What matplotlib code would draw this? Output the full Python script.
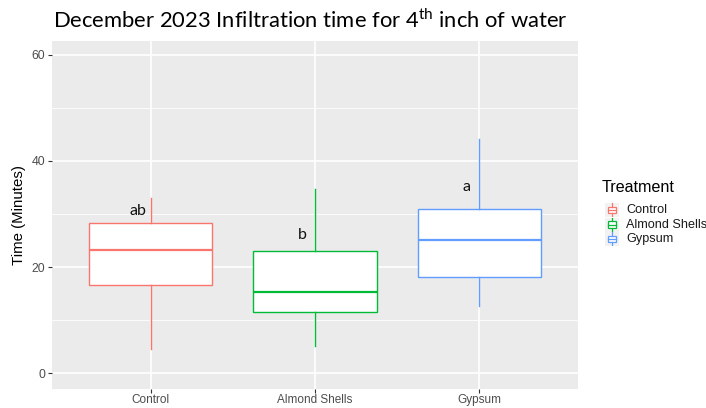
import matplotlib.pyplot as plt
from matplotlib.patches import Rectangle

# -----------------------
# Data
# -----------------------
treatments = ['Control', 'Almond Shells', 'Gypsum']
colors = ['#F8766D', '#00BA38', '#619CFF']
whisker_low = [4.6, 5.1, 12.7]
q1 = [16.7, 11.5, 18.2]
median = [23.2, 15.4, 25.1]
q3 = [28.4, 23.0, 30.9]
whisker_high = [33.1, 34.8, 44.2]
letters = ['ab', 'b', 'a']
letter_y = [30.6, 26.0, 35.1]

plt.rcParams['mathtext.fontset'] = 'custom'
plt.rcParams['mathtext.rm'] = 'Lato'

fig = plt.figure(figsize=(7.06, 4.08), dpi=100)
ax = fig.add_axes([52 / 706, 19 / 408, 526 / 706, 348 / 408])
ax.set_facecolor('#EBEBEB')

# -----------------------
# Grid like ggplot
# -----------------------
for y in [10, 30, 50]:
    ax.axhline(y, color='white', lw=0.6, zorder=0)
for y in [0, 20, 40, 60]:
    ax.axhline(y, color='white', lw=1.2, zorder=0)
for i in range(len(treatments)):
    ax.axvline(i + 1, color='white', lw=1.2, zorder=0)

# -----------------------
# Boxplots
# -----------------------
stats = []
for i, t in enumerate(treatments):
    stats.append({'label': t, 'whislo': whisker_low[i], 'q1': q1[i], 'med': median[i],
                  'q3': q3[i], 'whishi': whisker_high[i], 'fliers': []})

for i, s in enumerate(stats):
    c = colors[i]
    ax.bxp([s], positions=[i + 1], widths=0.75, showfliers=False, showcaps=False,
           patch_artist=True,
           boxprops=dict(facecolor='white', edgecolor=c, lw=1.0),
           medianprops=dict(color=c, lw=1.6),
           whiskerprops=dict(color=c, lw=1.0), zorder=2)

for i, lab in enumerate(letters):
    ax.text(i + 1 - 0.08, letter_y[i], lab, ha='center', va='center',
            fontsize=11.5, family='Lato', color='#111111')

ax.set_xlim(0.4, 3.6)
ax.set_ylim(-2.95, 62.6)
ax.set_yticks([0, 20, 40, 60])
ax.set_xticks([1, 2, 3])
ax.set_xticklabels(treatments)
ax.tick_params(colors='#333333', labelcolor='#4D4D4D', length=3, width=0.8,
               labelsize=8.8, labelfontfamily='Liberation Sans')
ax.tick_params(axis='x', pad=0.8, labelsize=8.5)
ax.tick_params(axis='y', pad=2)
for sp in ax.spines.values():
    sp.set_visible(False)
ax.set_ylabel('Time (Minutes)', fontsize=10.8, family='Liberation Sans', labelpad=4)

fig.text(310 / 706, 1 - 28 / 408, 'December 2023 Infiltration time for 4$^{\\mathrm{th}}$ inch of water',
         ha='center', va='baseline', fontsize=15.8, family='Lato')

# -----------------------
# Legend drawn by hand
# -----------------------
fig.text(602 / 706, 1 - 188 / 408, 'Treatment', fontsize=11.6, family='Liberation Sans',
         va='center', ha='left')
leg_y = [210, 224.5, 239]
for i, t in enumerate(treatments):
    yc = leg_y[i]
    kax = fig.add_axes([605 / 706, 1 - (yc + 7) / 408, 14 / 706, 14 / 408])
    kax.set_xlim(0, 1)
    kax.set_ylim(0, 1)
    kax.axis('off')
    kax.add_patch(Rectangle((0, 0), 1, 1, facecolor='#F2F2F2', edgecolor='none'))
    kax.add_patch(Rectangle((0.18, 0.28), 0.64, 0.44, facecolor='white', edgecolor=colors[i], lw=0.9))
    kax.plot([0.18, 0.82], [0.5, 0.5], color=colors[i], lw=0.9)
    kax.plot([0.5, 0.5], [0.02, 0.28], color=colors[i], lw=0.9)
    kax.plot([0.5, 0.5], [0.72, 0.98], color=colors[i], lw=0.9)
    fig.text(626 / 706, 1 - yc / 408, t, fontsize=9.1, family='Liberation Sans',
             va='center', ha='left', color='#1A1A1A')

fig.savefig('out.png', dpi=100)
